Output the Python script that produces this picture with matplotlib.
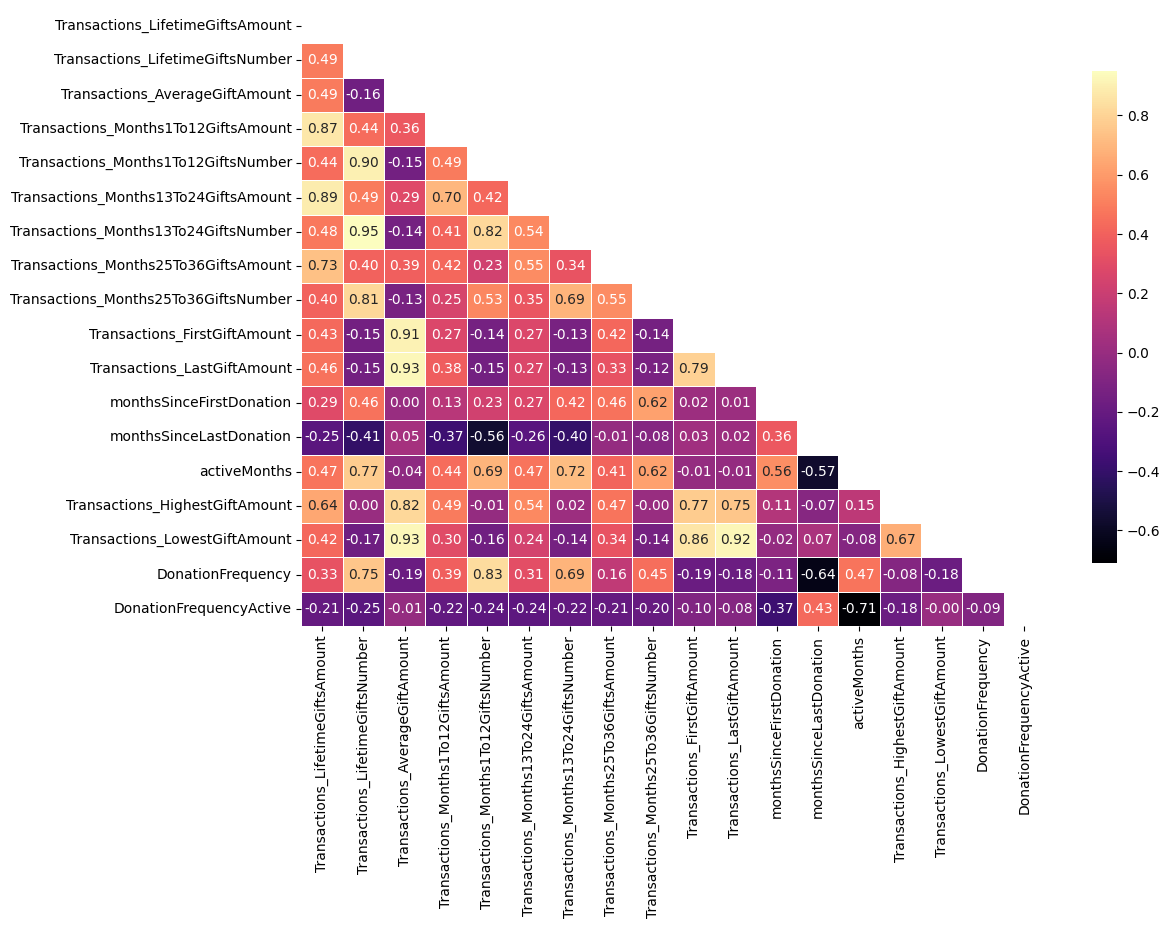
import numpy as np
import matplotlib
matplotlib.use("Agg")
import matplotlib.pyplot as plt
import seaborn as sns

labels = [
    "Transactions_LifetimeGiftsAmount",
    "Transactions_LifetimeGiftsNumber",
    "Transactions_AverageGiftAmount",
    "Transactions_Months1To12GiftsAmount",
    "Transactions_Months1To12GiftsNumber",
    "Transactions_Months13To24GiftsAmount",
    "Transactions_Months13To24GiftsNumber",
    "Transactions_Months25To36GiftsAmount",
    "Transactions_Months25To36GiftsNumber",
    "Transactions_FirstGiftAmount",
    "Transactions_LastGiftAmount",
    "monthsSinceFirstDonation",
    "monthsSinceLastDonation",
    "activeMonths",
    "Transactions_HighestGiftAmount",
    "Transactions_LowestGiftAmount",
    "DonationFrequency",
    "DonationFrequencyActive",
]

# lower triangle rows (row i has i values)
lower_rows = [
    [],
    [0.49],
    [0.49, -0.16],
    [0.87, 0.44, 0.36],
    [0.44, 0.90, -0.15, 0.49],
    [0.89, 0.49, 0.29, 0.70, 0.42],
    [0.48, 0.95, -0.14, 0.41, 0.82, 0.54],
    [0.73, 0.40, 0.39, 0.42, 0.23, 0.55, 0.34],
    [0.40, 0.81, -0.13, 0.25, 0.53, 0.35, 0.69, 0.55],
    [0.43, -0.15, 0.91, 0.27, -0.14, 0.27, -0.13, 0.42, -0.14],
    [0.46, -0.15, 0.93, 0.38, -0.15, 0.27, -0.13, 0.33, -0.12, 0.79],
    [0.29, 0.46, 0.00, 0.13, 0.23, 0.27, 0.42, 0.46, 0.62, 0.02, 0.01],
    [-0.25, -0.41, 0.05, -0.37, -0.56, -0.26, -0.40, -0.01, -0.08, 0.03, 0.02, 0.36],
    [0.47, 0.77, -0.04, 0.44, 0.69, 0.47, 0.72, 0.41, 0.62, -0.01, -0.01, 0.56, -0.57],
    [0.64, 0.00, 0.82, 0.49, -0.01, 0.54, 0.02, 0.47, -0.001, 0.77, 0.75, 0.11, -0.07, 0.15],
    [0.42, -0.17, 0.93, 0.30, -0.16, 0.24, -0.14, 0.34, -0.14, 0.86, 0.92, -0.02, 0.07, -0.08, 0.67],
    [0.33, 0.75, -0.19, 0.39, 0.83, 0.31, 0.69, 0.16, 0.45, -0.19, -0.18, -0.11, -0.64, 0.47, -0.08, -0.18],
    [-0.21, -0.25, -0.01, -0.22, -0.24, -0.24, -0.22, -0.21, -0.20, -0.10, -0.08, -0.37, 0.43, -0.71, -0.18, -0.001, -0.09],
]

n = len(labels)
corr = np.eye(n)
for i, row in enumerate(lower_rows):
    for j, v in enumerate(row):
        corr[i, j] = v
        corr[j, i] = v

mask = np.triu(np.ones_like(corr, dtype=bool))

fig = plt.figure(figsize=(11.7, 9.27), dpi=100)
W, H = 1170, 927
ax = fig.add_axes([301.5 / W, 1 - 626 / H, (1045 - 301.5) / W, (626 - 9) / H])
cax = fig.add_axes([1092 / W, 1 - 563 / H, 25 / W, (563 - 71) / H])

sns.heatmap(corr, mask=mask, cmap="magma", annot=True, fmt=".2f",
            linewidths=0.5, linecolor="white", ax=ax, cbar_ax=cax,
            xticklabels=labels, yticklabels=labels)
ax.set_xticklabels(labels, rotation=90)
ax.set_yticklabels(labels, rotation=0)
cax.tick_params(labelsize=10)

fig.savefig("out.png", dpi=100)
